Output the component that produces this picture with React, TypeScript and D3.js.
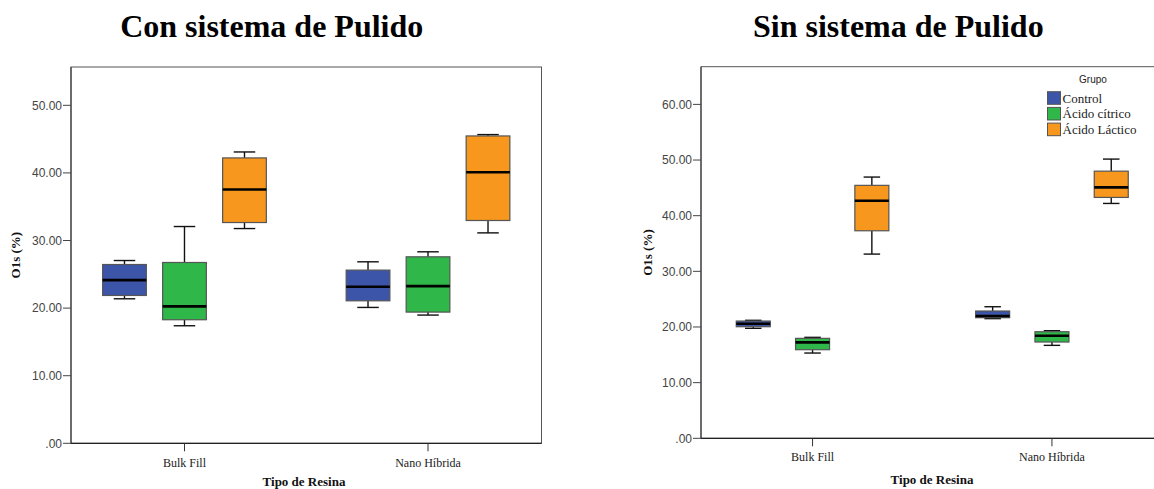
import React from "react";
import * as d3 from "d3";

const categories = ["Bulk Fill", "Nano Híbrida"];
const groups = ["Control", "Ácido cítrico", "Ácido Láctico"];
const groupColors = ["#3C55A8", "#2FB74A", "#F7971D"];

// [min, q1, median, q3, max]
const conBulkFill = [
  [21.38, 21.87, 24.14, 26.45, 27.04],
  [17.39, 18.28, 20.25, 26.75, 32.07],
  [31.77, 32.66, 37.54, 42.22, 43.1],
];
const conNanoHibrida = [
  [20.1, 21.08, 23.15, 25.62, 26.85],
  [18.97, 19.41, 23.25, 27.59, 28.33],
  [31.13, 32.96, 40.1, 45.47, 45.67],
];
const sinBulkFill = [
  [19.76, 20.05, 20.59, 21.07, 21.2],
  [15.32, 15.92, 17.24, 17.96, 18.14],
  [33.1, 37.29, 42.68, 45.45, 46.94],
];
const sinNanoHibrida = [
  [21.5, 21.67, 21.97, 22.87, 23.64],
  [16.7, 17.3, 18.43, 19.15, 19.33],
  [42.2, 43.28, 45.08, 48.0, 50.17],
];

const conTicks = [0, 10, 20, 30, 40, 50];
const sinTicks = [0, 10, 20, 30, 40, 50, 60];

const titleCon = "Con sistema de Pulido";
const titleSin = "Sin sistema de Pulido";
const yLabel = "O1s (%)";
const xLabel = "Tipo de Resina";
const legendTitle = "Grupo";

const fmt = (v: number) => d3.format(".2f")(v).replace(/^0\./, ".");

const SERIF = "'Liberation Serif', 'Times New Roman', serif";
const SANS = "'Liberation Sans', Arial, sans-serif";

type PanelProps = {
  data: number[][][];
  ticks: number[];
  yMax: number;
  left: number;
  right: number;
  frameRight: number;
  top: number;
  bottom: number;
  boxWidth: number;
  capWidth: number;
  groupSpread: number;
  title: string;
  titleX: number;
  yLabelX: number;
  xLabelX: number;
  xLabelY: number;
  catLabelY: number;
  closed: boolean;
};

function Panel(p: PanelProps) {
  const y = d3.scaleLinear().domain([0, p.yMax]).range([p.bottom, p.top]);
  const x = d3.scalePoint<string>().domain(categories).range([p.left, p.right]).padding(0.466);
  const gx = d3.scalePoint<string>().domain(groups).range([-p.groupSpread, p.groupSpread]);
  const midY = (p.top + p.bottom) / 2;
  const axisColor = "#444";
  return (
    <g>
      <text x={p.titleX} y={37} textAnchor="middle" fontFamily={SERIF} fontWeight="bold" fontSize={32} fill="#000">
        {p.title}
      </text>
      {p.closed ? (
        <rect x={p.left} y={p.top} width={p.frameRight - p.left} height={p.bottom - p.top} fill="none" stroke="#555" strokeWidth={1} />
      ) : (
        <path d={`M${p.frameRight},${p.top}H${p.left}V${p.bottom}H${p.frameRight}`} fill="none" stroke="#555" strokeWidth={1} />
      )}
      <line x1={p.left} x2={p.left} y1={p.top} y2={p.bottom} stroke={axisColor} strokeWidth={1.2} />
      <line x1={p.left} x2={p.frameRight} y1={p.bottom} y2={p.bottom} stroke="#222" strokeWidth={1.2} />
      {p.ticks.map((t) => (
        <g key={t}>
          <line x1={p.left - 8} x2={p.left} y1={y(t)} y2={y(t)} stroke={axisColor} strokeWidth={1} />
          <text x={p.left - 9} y={y(t)} dy="0.36em" textAnchor="end" fontFamily={SANS} fontSize={12} fill="#444">
            {fmt(t)}
          </text>
        </g>
      ))}
      {categories.map((c) => (
        <g key={c}>
          <line x1={x(c)} x2={x(c)} y1={p.bottom} y2={p.bottom + 8} stroke="#333" strokeWidth={1} />
          <text x={x(c)} y={p.catLabelY} textAnchor="middle" fontFamily={SERIF} fontSize={12} fill="#222">
            {c}
          </text>
        </g>
      ))}
      <text x={p.xLabelX} y={p.xLabelY} textAnchor="middle" fontFamily={SERIF} fontWeight="bold" fontSize={13} fill="#111">
        {xLabel}
      </text>
      <text
        transform={`translate(${p.yLabelX},${midY}) rotate(-90)`}
        textAnchor="middle"
        dy="0.35em"
        fontFamily={SERIF}
        fontWeight="bold"
        fontSize={13}
        fill="#111"
      >
        {yLabel}
      </text>
      {categories.map((c, ci) =>
        groups.map((g, gi) => {
          const [mn, q1, md, q3, mx] = p.data[ci][gi];
          const cx = (x(c) as number) + (gx(g) as number);
          const bw = p.boxWidth;
          const hc = p.capWidth / 2;
          return (
            <g key={c + g}>
              <line x1={cx} x2={cx} y1={y(mx)} y2={y(q3)} stroke="#111" strokeWidth={1.4} />
              <line x1={cx} x2={cx} y1={y(q1)} y2={y(mn)} stroke="#111" strokeWidth={1.4} />
              <line x1={cx - hc} x2={cx + hc} y1={y(mx)} y2={y(mx)} stroke="#111" strokeWidth={1.4} />
              <line x1={cx - hc} x2={cx + hc} y1={y(mn)} y2={y(mn)} stroke="#111" strokeWidth={1.4} />
              <rect
                x={cx - bw / 2}
                y={y(q3)}
                width={bw}
                height={y(q1) - y(q3)}
                fill={groupColors[gi]}
                stroke="#555"
                strokeWidth={1.2}
              />
              <line x1={cx - bw / 2} x2={cx + bw / 2} y1={y(md)} y2={y(md)} stroke="#000" strokeWidth={2.6} />
            </g>
          );
        })
      )}
    </g>
  );
}

export default function App() {
  return (
    <svg width={1154} height={489} style={{ position: "absolute", left: 0, top: 0, background: "#fff" }}>
      <rect width={1154} height={489} fill="#fff" />
      <Panel
        data={[conBulkFill, conNanoHibrida]}
        ticks={conTicks}
        yMax={55.67}
        left={71}
        right={541.5}
        frameRight={541.5}
        top={67}
        bottom={443.3}
        boxWidth={43.7}
        capWidth={21.5}
        groupSpread={60}
        title={titleCon}
        titleX={271.7}
        yLabelX={15}
        xLabelX={304}
        xLabelY={485.5}
        catLabelY={466.5}
        closed={true}
      />
      <Panel
        data={[sinBulkFill, sinNanoHibrida]}
        ticks={sinTicks}
        yMax={66.77}
        left={701}
        right={1163.5}
        frameRight={1170}
        top={66.7}
        bottom={438.3}
        boxWidth={34}
        capWidth={16.5}
        groupSpread={59.3}
        title={titleSin}
        titleX={898.3}
        yLabelX={647}
        xLabelX={932}
        xLabelY={483.5}
        catLabelY={461}
        closed={false}
      />
      <g>
        <text x={1093} y={82.5} textAnchor="middle" fontFamily={SANS} fontSize={10} fill="#222">
          {legendTitle}
        </text>
        {groups.map((g, i) => (
          <g key={g} transform={`translate(1047.5,${91.7 + i * 15.7})`}>
            <rect x={0} y={0} width={13} height={12.6} fill={groupColors[i]} stroke="#555" strokeWidth={1} />
            <text x={15} y={10.8} fontFamily={SERIF} fontSize={13} fill="#222">
              {g}
            </text>
          </g>
        ))}
      </g>
    </svg>
  );
}
